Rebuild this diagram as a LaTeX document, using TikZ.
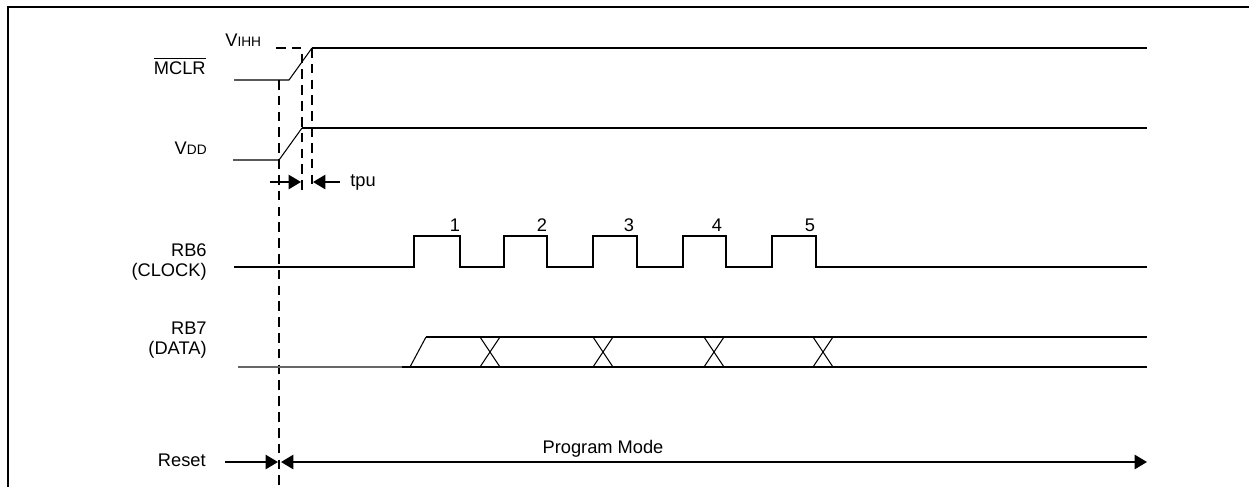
\documentclass[tikz,border=0pt]{standalone}
\usepackage{fontspec}
\setmainfont{Liberation Sans}
\usetikzlibrary{arrows.meta}
\begin{document}
\begin{tikzpicture}[x=0.02cm,y=-0.02cm,
  thickline/.style={line width=1.25pt},
  thinline/.style={line width=0.6pt},
  dashline/.style={line width=1.25pt, dash pattern=on 5.5pt off 3.5pt},
  lbl/.style={font=\fontsize{10.4}{11.5}\selectfont, inner sep=0pt},
  arrowtip/.style={-{Triangle[length=7pt,width=8pt]}},
  bothtips/.style={{Triangle[length=7pt,width=8pt]}-{Triangle[length=7pt,width=8pt]}}
]
\useasboundingbox (0,0) rectangle (1249,487);
% frame
\draw[thickline] (8,487) -- (8,7) -- (1249,7);

% MCLR
\draw[thinline] (234,80) -- (289,80) -- (312,48);
\draw[thickline] (312,48) -- (1147,48);
% VIHH dashed level
\draw[dashline] (276,48) -- (302,48) -- (302,190);
\draw[dashline] (312,48) -- (312,190);
\draw[dashline] (279,80) -- (279,487);

% VDD
\draw[thinline] (233,160) -- (279,160) -- (302,128);
\draw[thickline] (302,128) -- (1147,128);

% tpu
\coordinate (tpuL0) at (270,182);
\coordinate (tpuL1) at (301,182);
\coordinate (tpuR0) at (340,182);
\coordinate (tpuR1) at (313,182);
\draw[thickline, arrowtip] (tpuL0) -- (tpuL1);
\draw[thickline, arrowtip] (tpuR0) -- (tpuR1);
\node[lbl, anchor=west] (tpu) at (350,182) {tpu};

% RB6 clock
\draw[thickline] (234,267) -- (414,267) -- (414,236) -- (460,236) -- (460,267)
  -- (504,267) -- (504,236) -- (547,236) -- (547,267)
  -- (593,267) -- (593,236) -- (637,236) -- (637,267)
  -- (683,267) -- (683,236) -- (726,236) -- (726,267)
  -- (772,267) -- (772,236) -- (816,236) -- (816,267) -- (1147,267);
\node[lbl] (n1) at (455,225) {1};
\node[lbl] (n2) at (542,225) {2};
\node[lbl] (n3) at (629,225) {3};
\node[lbl] (n4) at (717,225) {4};
\node[lbl] (n5) at (810,225) {5};

% RB7 data
\draw[line width=0.6pt, black!60] (238,367) -- (402,367);
\draw[thickline] (402,367) -- (1147,367);
\draw[thinline] (410,367) -- (426,337);
\draw[thickline] (426,337) -- (1147,337);
\foreach \c in {490,603,714,823} {
  \draw[thinline] (\c-10,367) -- (\c+10,337) (\c-10,337) -- (\c+10,367);
}

% Reset / Program Mode
\coordinate (rs0) at (225,462);
\coordinate (rs1) at (278,462);
\coordinate (pm0) at (281,462);
\coordinate (pm1) at (1147,462);
\draw[thickline, arrowtip] (rs0) -- (rs1);
\draw[thickline, bothtips] (pm0) -- (pm1);

% labels
\node[lbl, anchor=east] (mclr) at (206,66) {$\overline{\mbox{MCLR}}$};
\node[lbl, anchor=west] (vihh) at (225,40) {V{\fontsize{7.8}{8}\selectfont IHH}};
\node[lbl, anchor=east] (vdd) at (207,148) {V{\fontsize{7.8}{8}\selectfont DD}};
\node[lbl, anchor=east, align=right] (rb6) at (207,262) {RB6\\(CLOCK)};
\node[lbl, anchor=east, align=right] (rb7) at (207,340) {RB7\\(DATA)};
\node[lbl, anchor=east] (reset) at (206,460) {Reset};
\node[lbl] (pmode) at (603,449) {Program Mode};
\end{tikzpicture}
\end{document}
